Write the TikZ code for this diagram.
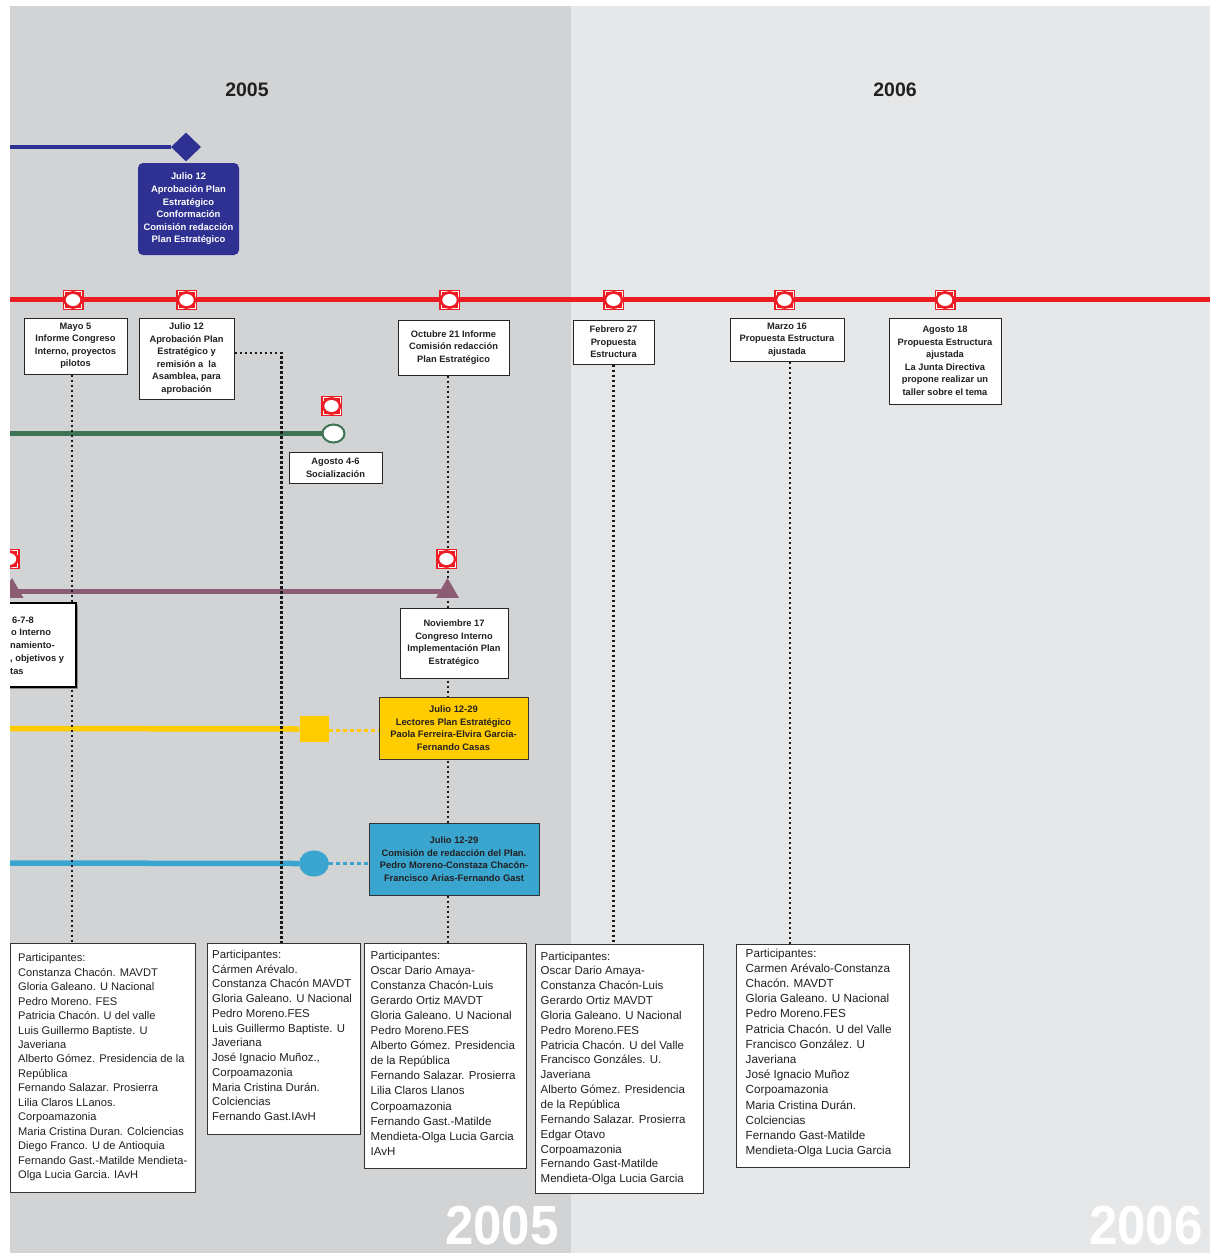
\documentclass[tikz,border=0pt]{standalone}
\usepackage{fontspec}
\setmainfont{Liberation Sans}
\usepackage{graphicx}
\usetikzlibrary{shapes.geometric}
\definecolor{bgdark}{HTML}{D1D3D4}
\definecolor{bglight}{HTML}{E6E7E8}
\definecolor{navy}{HTML}{2E3192}
\definecolor{redc}{HTML}{ED1C24}
\definecolor{greenc}{HTML}{3E7453}
\definecolor{purplec}{HTML}{8C5C74}
\definecolor{yellowc}{HTML}{FFCC00}
\definecolor{cyanc}{HTML}{3AA6CF}
\definecolor{textc}{HTML}{231F20}
\pgfdeclarelayer{back}
\pgfdeclarelayer{lines}
\pgfsetlayers{back,lines,main}
\tikzset{
  evbox/.style={draw=black!85, line width=1pt, fill=white, align=center, inner sep=1pt,
    font=\fontsize{9.3}{12.5}\selectfont\bfseries, text=textc},
  colbox/.style={draw=black!80, line width=1pt, align=center, inner sep=1pt,
    font=\fontsize{9.4}{12.7}\selectfont\bfseries, text=textc},
  pbox/.style={draw=black!80, line width=0.9pt, fill=white, anchor=north west, inner sep=0pt},
  ptext/.style={anchor=north west, align=left, inner sep=0pt, text=textc},
  tline/.style={line width=5.5pt},
  dotline/.style={line width=2.6pt, dash pattern=on 2.6pt off 2.4pt, black!90},
  colordots/.style={line width=3pt, dash pattern=on 4pt off 3pt},
  yearlabel/.style={font=\fontsize{19.5}{20}\selectfont\bfseries, text=textc},
  watermark/.style={font=\fontsize{55}{55}\selectfont\bfseries, text=white, inner sep=0pt},
  redmark/.pic={
    \fill[redc] (-10.5,-10) rectangle (10.5,10);
    \draw[white, line width=0.7pt] (-8.6,-8.2) rectangle (8.6,8.2);
    \fill[redc] (0,0) ellipse [x radius=9.6pt, y radius=8.9pt];
    \fill[white] (0,0) ellipse [x radius=7.2pt, y radius=6pt];
  }
}
\begin{document}
\begin{tikzpicture}[x=1pt,y=-1pt]
\useasboundingbox (0,0) rectangle (1210,1253);
\begin{pgfonlayer}{back}
  \fill[white] (0,0) rectangle (1210,1253);
  \fill[bgdark] (10,6) rectangle (571,1253);
  \fill[bglight] (571,6) rectangle (1210,1253);
\end{pgfonlayer}

% year labels
\node[yearlabel] (y05) at (247,90) {2005};
\node[yearlabel] (y06) at (895,90) {2006};
\node[watermark] (w05) at (502,1226) {\scalebox{0.93}[1]{2005}};
\node[watermark] (w06) at (1146,1226) {\scalebox{0.93}[1]{2006}};

% blue track
\coordinate (bl) at (10,147);
\node[diamond, fill=navy, inner sep=0pt, minimum width=30pt, minimum height=29pt] (diam) at (186,147) {};
\node[fill=navy, rounded corners=5pt, text=white, align=center, inner sep=0pt,
      font=\fontsize{9.4}{12.6}\selectfont\bfseries,
      minimum width=101pt, minimum height=92pt] (bluebox) at (188.5,209)
  {Julio 12\\Aprobación Plan\\Estratégico\\Conformación\\Comisión redacción\\Plan Estratégico};

% red track boxes
\coordinate (rl) at (10,299.5);
\coordinate (rr) at (1210,299.5);
\node[evbox, minimum width=103pt, minimum height=56pt] (mayo) at (75.5,346)
  {Mayo 5\\Informe Congreso\\Interno, proyectos\\pilotos};
\node[evbox, minimum width=95pt, minimum height=81pt] (jul) at (186.5,358.5)
  {Julio 12\\Aprobación Plan\\Estratégico y\\remisión a\ \ la\\Asamblea, para\\aprobación};
\node[evbox, minimum width=111pt, minimum height=55pt] (oct) at (453.5,347.5)
  {Octubre 21 Informe\\Comisión redacción\\Plan Estratégico};
\node[evbox, minimum width=81pt, minimum height=44pt] (feb) at (613.5,342)
  {Febrero 27\\Propuesta\\Estructura};
\node[evbox, minimum width=114pt, minimum height=43pt] (mar) at (787,339.5)
  {Marzo 16\\Propuesta Estructura\\ajustada};
\node[evbox, minimum width=112pt, minimum height=86pt] (ago18) at (945,361)
  {Agosto 18\\Propuesta Estructura\\ajustada\\La Junta Directiva\\propone realizar un\\taller sobre el tema};

% green track
\coordinate (gl) at (10,433.5);
\node[ellipse, draw=greenc, line width=2pt, fill=white, inner sep=0pt,
      minimum width=22pt, minimum height=18pt] (gend) at (333.5,433.5) {};
\node[evbox, minimum width=93pt, minimum height=31pt] (ago46) at (335.5,468)
  {Agosto 4-6\\Socialización};

% purple track
\node[regular polygon, regular polygon sides=3, fill=purplec, inner sep=0pt, minimum size=26.6pt] (ptl) at (12,591.3) {};
\node[regular polygon, regular polygon sides=3, fill=purplec, inner sep=0pt, minimum size=26.6pt] (ptr) at (447.5,591.3) {};
\node[fill=black!45, inner sep=0pt, minimum width=100pt, minimum height=84pt] (leftshadow) at (28,646.5) {};
\node[draw=black, line width=2pt, fill=white, inner sep=0pt, minimum width=100pt, minimum height=84pt] (leftbox) at (26,644.5) {};
\node[anchor=north west, align=left, inner sep=0pt, text=textc,
      font=\fontsize{9.3}{12.7}\selectfont\bfseries] (lefttext) at (10,616.5)
  {\hspace*{2pt}6-7-8\\\hspace*{1pt}o Interno\\namiento-\\, objetivos y\\tas};
\node[evbox, minimum width=108pt, minimum height=70pt] (nov) at (454,643)
  {Noviembre 17\\Congreso Interno\\Implementación Plan\\Estratégico};

% yellow track
\coordinate (yl) at (10,728.5);
\node[fill=yellowc, inner sep=0pt, minimum width=29pt, minimum height=26pt] (ysq) at (314,729) {};
\node[colbox, fill=yellowc, minimum width=149pt, minimum height=62pt] (ybox) at (453.5,728)
  {Julio 12-29\\Lectores Plan Estratégico\\Paola Ferreira-Elvira Garcia-\\Fernando Casas};

% cyan track
\coordinate (cl) at (10,863);
\node[ellipse, fill=cyanc, inner sep=0pt, minimum width=30pt, minimum height=26pt] (ccirc) at (314,863.5) {};
\node[colbox, fill=cyanc, minimum width=170pt, minimum height=72pt] (cbox) at (454,859)
  {Julio 12-29\\Comisión de redacción del Plan.\\Pedro Moreno-Constaza Chacón-\\Francisco Arias-Fernando Gast};

% participant boxes
\node[pbox, minimum width=185pt, minimum height=249pt] (p1) at (10,943) {};
\node[ptext, font=\fontsize{11.1}{14.45}\selectfont] (p1t) at (18,953.5)
  {Participantes:\\Constanza Chacón. MAVDT\\Gloria Galeano. U Nacional\\Pedro Moreno. FES\\Patricia Chacón. U del valle\\Luis Guillermo Baptiste. U\\Javeriana\\Alberto Gómez. Presidencia de la\\República\\Fernando Salazar. Prosierra\\Lilia Claros LLanos.\\Corpoamazonia\\Maria Cristina Duran. Colciencias\\Diego Franco. U de Antioquia\\Fernando Gast.-Matilde Mendieta-\\Olga Lucia Garcia. IAvH};
\node[pbox, minimum width=153pt, minimum height=191pt] (p2) at (207,943) {};
\node[ptext, font=\fontsize{11.4}{14.75}\selectfont] (p2t) at (212,950)
  {Participantes:\\Cármen Arévalo.\\Constanza Chacón MAVDT\\Gloria Galeano. U Nacional\\Pedro Moreno.FES\\Luis Guillermo Baptiste. U\\Javeriana\\José Ignacio Muñoz.,\\Corpoamazonia\\Maria Cristina Durán.\\Colciencias\\Fernando Gast.IAvH};
\node[pbox, minimum width=162pt, minimum height=225pt] (p3) at (364,943) {};
\node[ptext, font=\fontsize{11.5}{15.1}\selectfont] (p3t) at (370.5,950.5)
  {Participantes:\\Oscar Dario Amaya-\\Constanza Chacón-Luis\\Gerardo Ortiz MAVDT\\Gloria Galeano. U Nacional\\Pedro Moreno.FES\\Alberto Gómez. Presidencia\\de la República\\Fernando Salazar. Prosierra\\Lilia Claros Llanos\\Corpoamazonia\\Fernando Gast.-Matilde\\Mendieta-Olga Lucia Garcia\\IAvH};
\node[pbox, minimum width=168pt, minimum height=249pt] (p4) at (535,944) {};
\node[ptext, font=\fontsize{11.5}{14.85}\selectfont] (p4t) at (540.5,951.5)
  {Participantes:\\Oscar Dario Amaya-\\Constanza Chacón-Luis\\Gerardo Ortiz MAVDT\\Gloria Galeano. U Nacional\\Pedro Moreno.FES\\Patricia Chacón. U del Valle\\Francisco Gonzáles. U.\\Javeriana\\Alberto Gómez. Presidencia\\de la República\\Fernando Salazar. Prosierra\\Edgar Otavo\\Corpoamazonia\\Fernando Gast-Matilde\\Mendieta-Olga Lucia Garcia};
\node[pbox, minimum width=173pt, minimum height=223pt] (p5) at (736,944) {};
\node[ptext, font=\fontsize{11.7}{15.2}\selectfont] (p5t) at (745.5,948.5)
  {Participantes:\\Carmen Arévalo-Constanza\\Chacón. MAVDT\\Gloria Galeano. U Nacional\\Pedro Moreno.FES\\Patricia Chacón. U del Valle\\Francisco González. U\\Javeriana\\José Ignacio Muñoz\\Corpoamazonia\\Maria Cristina Durán.\\Colciencias\\Fernando Gast-Matilde\\Mendieta-Olga Lucia Garcia};

% red markers
\pic (m1) at (73,300) {redmark};
\pic (m2) at (186.5,300) {redmark};
\pic (m3) at (449.5,300) {redmark};
\pic (m4) at (613.5,300) {redmark};
\pic (m5) at (784.5,300) {redmark};
\pic (m6) at (945,300) {redmark};
\pic (m7) at (331.5,406) {redmark};
\pic (m8) at (446.5,559) {redmark};
\pic (m9) at (9,559) {redmark};

% lines
\begin{pgfonlayer}{lines}
  \draw[navy, line width=4pt] (bl) -- (diam.west);
  \draw[redc, tline] (rl) -- (rr);
  \draw[greenc, tline] (gl) -- (gend.west);
  \draw[purplec, tline] (ptl.center) -- (ptr.center);
  \draw[yellowc, tline] (yl) -- (ysq.west);
  \draw[yellowc, colordots] (ysq.east |- 0,730) -- (ybox.west |- 0,730);
  \draw[cyanc, tline] (cl) -- (ccirc.west);
  \draw[cyanc, colordots] (ccirc.east) -- (cbox.west |- ccirc.east);
  \draw[dotline] ([xshift=-3.5pt]mayo.south) -- ([xshift=-3.5pt]mayo.south |- p1.north);
  \draw[dotline] ([yshift=5.5pt]jul.east) -| ([xshift=-2.5pt]p2.north);
  \draw[dotline] ([xshift=-5.5pt]oct.south) -- ([xshift=-5.5pt]oct.south |- p3.north);
  \draw[dotline] (feb.south) -- (feb.south |- p4.north);
  \draw[dotline] ([xshift=3pt]mar.south) -- ([xshift=3pt]mar.south |- p5.north);
\end{pgfonlayer}

% white margins
\fill[white] (0,0) rectangle (10,1253);
\fill[white] (0,0) rectangle (1210,6);
\end{tikzpicture}
\end{document}
